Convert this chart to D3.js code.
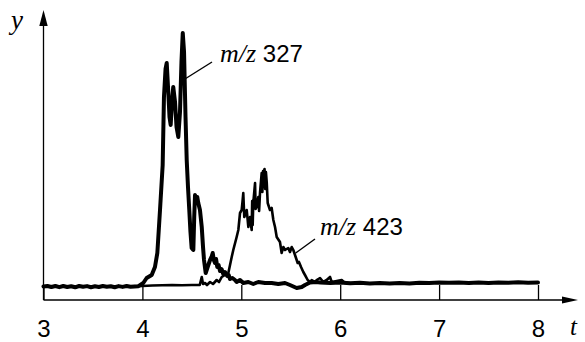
<!DOCTYPE html>
<html><head><meta charset="utf-8">
<script src="https://cdn.jsdelivr.net/npm/d3@7"></script>
<style>html,body{margin:0;padding:0;background:#fff;}svg{display:block;}</style>
</head><body>
<script>
// ---- data ----
const xTicks = [3, 4, 5, 6, 7, 8];
const xTickLabels = ["3", "4", "5", "6", "7", "8"];
const seriesNames = ["m/z 327", "m/z 423"];

const t327 = [3.00,3.04,3.08,3.12,3.16,3.20,3.24,3.28,3.32,3.36,3.40,3.44,3.48,3.52,3.56,3.60,3.64,3.68,3.72,3.76,3.80,3.84,3.88,3.92,3.96,4.009,
  4.043,4.094,4.127,4.151,4.178,4.205,4.218,4.234,4.246,4.259,4.274,4.286,4.299,4.312,4.330,4.345,4.363,4.380,4.395,4.408,4.421,4.436,4.448,
  4.461,4.474,4.486,4.498,4.515,4.524,4.532,4.544,4.555,4.565,4.582,4.600,4.613,4.623,4.640,4.660,4.684,4.699,4.711,4.722,4.734,4.745,4.757,
  4.770,4.785,4.800,4.818,4.835,4.858,4.872,4.886,4.910,4.936,4.953,4.987,5.020,5.071,5.121,5.172,5.240,5.307,5.374,5.442,5.492,5.560,5.611,
  5.644,5.695,5.755,5.80,5.90,6.00,6.10,6.20,
  6.30,6.40,6.50,6.60,6.70,6.80,6.90,7.00,7.10,7.20,7.30,7.40,7.50,7.60,7.70,7.80,7.90,8.00];
const i327 = [0.5,1,0,1,-0.2,1,0,0.8,-0.3,1,0.2,0.9,-0.2,0.7,0,1,0.3,0.8,-0.2,0.9,0.1,1,0.2,0.6,0.8,4,
  9,12,20,34,77,122,190,218,224,200,170,162,185,200,185,160,150,175,225,254,235,170,127,
  100,77,55,39,37,70,92,88,90,84,77,60,40,27,14,20,27,30,34,27,24,28,20,
  22,16,18,13,15,11,12,8,9,7,5,7,4,5,3,5,4,4,3,4,2,-1,0,
  2,4.5,5,4.5,4,4.5,3.8,4.2,
  3.6,4,3.5,4,3.6,4.3,3.9,4.5,4.2,4.6,4.0,4.4,3.9,4.6,4.2,4.8,4.2,4.5];

const t423 = [3.00,3.10,3.20,3.30,3.40,3.50,3.60,3.70,3.80,3.90,4.00,4.10,4.20,4.30,4.40,4.50,4.58,4.600,4.613,4.633,4.653,4.684,4.714,4.751,4.775,
  4.802,4.835,4.869,4.903,4.919,4.953,4.970,4.987,5.004,5.012,5.020,5.030,5.055,5.071,5.088,5.105,5.110,5.115,5.121,5.139,5.145,5.155,5.172,
  5.180,5.189,5.206,5.213,
  5.220,5.227,5.235,5.242,5.249,5.257,5.267,5.290,5.307,5.324,5.341,5.358,5.391,5.408,5.425,5.442,5.475,5.492,5.510,5.526,5.543,5.560,5.570,
  5.583,5.604,5.627,5.644,5.671,5.695,5.712,5.746,5.762,5.796,5.829,5.864,5.897,5.914,5.965,6.015,6.049,6.10];
const i423 = [0.3,0.5,0.2,0.5,0.3,0.4,0.3,0.5,0.3,0.6,1,1.5,1.8,2,1.8,2,2,10,3,4,2,5,3,7,5,
  10,12,14,30,37,50,57,74,77,85,94,70,77,60,70,57,86,62,84,104,78,80,90,
  76,94,114,95,
  116,100,118,98,115,105,84,77,79,67,60,50,45,34,40,37,39,35,40,37,32,27,24,
  25,20,15,12,7,5,7,5,7,9,5,7,10,5,6,7,4,4];

// ---- drawing ----
const W = 585, H = 342;
const svg = d3.select("body").append("svg").attr("width", W).attr("height", H);

const x = d3.scaleLinear().domain([3, 8]).range([43.5, 538]);
const y = d3.scaleLinear().domain([0, 270]).range([287, 17]);
const axisY = 300;

// x axis line + arrow
svg.append("line").attr("x1", 43.5).attr("x2", 566).attr("y1", axisY).attr("y2", axisY)
  .attr("stroke", "#000").attr("stroke-width", 1.3);
svg.append("path").attr("d", `M578,${axisY} L562,${axisY-3.6} L562,${axisY+3.6} Z`).attr("fill", "#000");
// y axis line + arrow
svg.append("line").attr("x1", 43.5).attr("x2", 43.5).attr("y1", axisY).attr("y2", 22)
  .attr("stroke", "#000").attr("stroke-width", 1.3);
svg.append("path").attr("d", `M43.5,10 L39.3,26 L47.7,26 Z`).attr("fill", "#000");

// ticks and labels via d3 axis
const xAxis = d3.axisBottom(x).tickValues(xTicks).tickFormat((d, i) => xTickLabels[i])
  .tickSize(-15).tickSizeOuter(0).tickPadding(20);
const gx = svg.append("g").attr("transform", `translate(0,${axisY})`).call(xAxis);
gx.select(".domain").remove();
gx.selectAll(".tick line").attr("stroke", "#000").attr("stroke-width", 1.3);
gx.selectAll(".tick text").attr("fill", "#000").style("font-family", "'Liberation Sans', Arial, sans-serif")
  .style("font-size", "24px");

// axis names
svg.append("text").attr("x", 11).attr("y", 29).text("y")
  .style("font-family", "'Liberation Serif', 'Times New Roman', serif").style("font-style", "italic").style("font-size", "27px");
svg.append("text").attr("x", 570).attr("y", 335).text("t")
  .style("font-family", "'Liberation Serif', 'Times New Roman', serif").style("font-style", "italic").style("font-size", "25px");

const line = d3.line().x(d => x(d[0])).y(d => y(d[1])).curve(d3.curveLinear);
const d423 = t423.map((t, i) => [t, i423[i]]);
const d327 = t327.map((t, i) => [t, i327[i]]);

svg.append("path").datum(d423).attr("d", line).attr("fill", "none").attr("stroke", "#000")
  .attr("stroke-width", 2.6).attr("stroke-linejoin", "round").attr("stroke-linecap", "round");
svg.append("path").datum(d327).attr("d", line).attr("fill", "none").attr("stroke", "#000")
  .attr("stroke-width", 4).attr("stroke-linejoin", "round").attr("stroke-linecap", "round");

// series labels with leader lines
function label(px, py, name, lx1, ly1, lx2, ly2) {
  svg.append("line").attr("x1", lx1).attr("y1", ly1).attr("x2", lx2).attr("y2", ly2)
    .attr("stroke", "#000").attr("stroke-width", 1.4);
  const parts = name.split(" ");
  const tx = svg.append("text").attr("x", px).attr("y", py);
  tx.append("tspan").text(parts[0])
    .style("font-family", "'Liberation Serif', 'Times New Roman', serif").style("font-style", "italic").style("font-size", "26px");
  tx.append("tspan").text(" " + parts[1])
    .style("font-family", "'Liberation Sans', Arial, sans-serif").style("font-size", "24px");
}
label(220, 62, seriesNames[0], x(4.43), y(208), 212, 62);
label(320, 235, seriesNames[1], x(5.55), y(34), 315, 239);
</script>
</body></html>
